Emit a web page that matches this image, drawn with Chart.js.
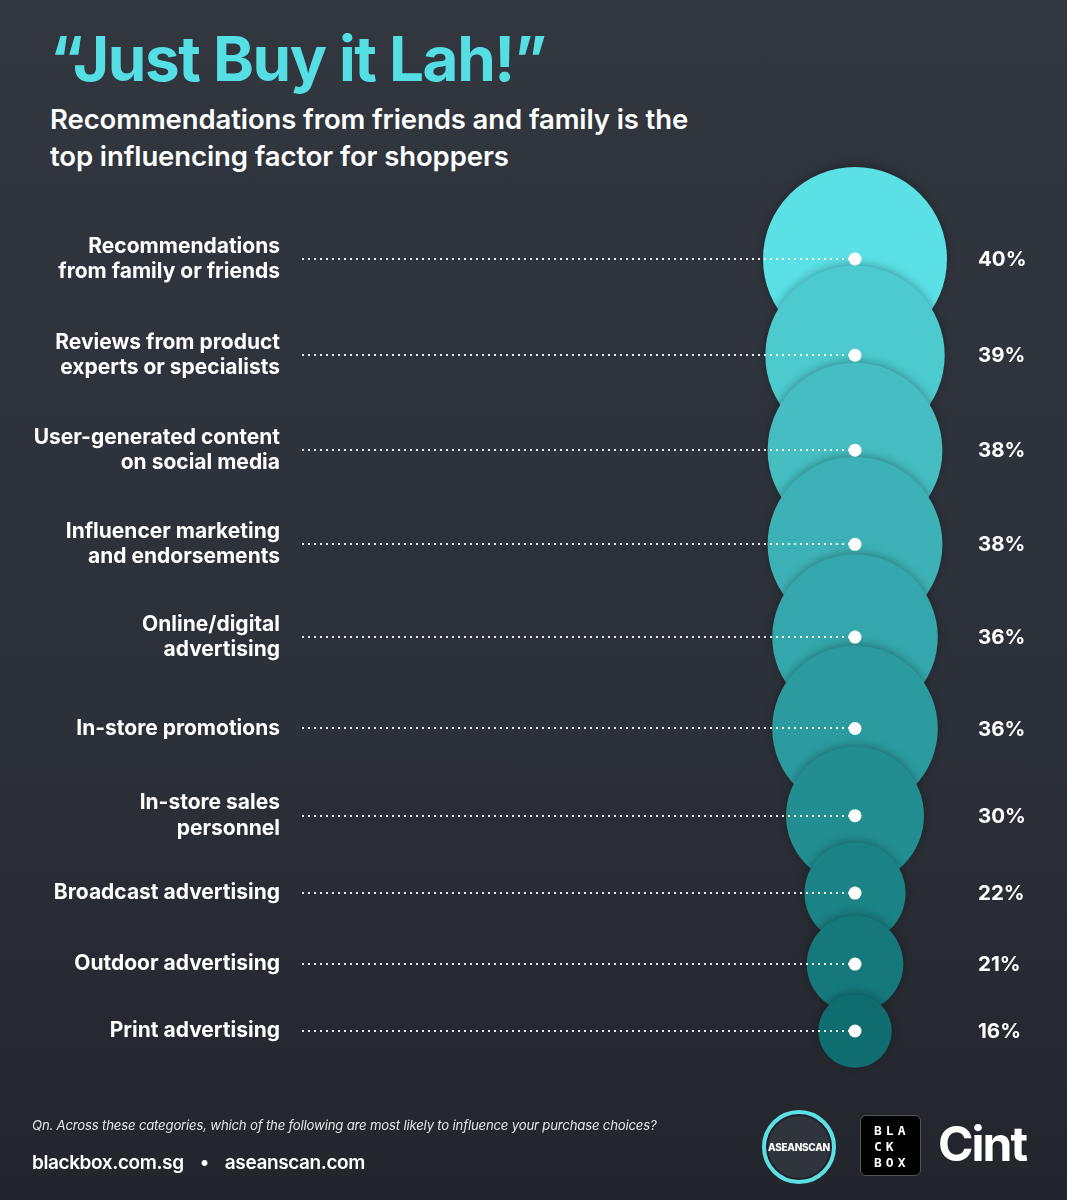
<!DOCTYPE html>
<html>
<head>
<meta charset="utf-8">
<script src="https://cdn.jsdelivr.net/npm/chart.js@4.4.1/dist/chart.umd.min.js"></script>
<style>
  html, body { margin: 0; padding: 0; }
  body {
    width: 1067px; height: 1200px; position: relative; overflow: hidden;
    background: linear-gradient(180deg, #31363f 0%, #2c3039 60%, #23252c 100%);
    font-family: "Inter", "Noto Sans", sans-serif; color: #fff;
  }
  #chart { position: absolute; left: 0; top: 0; }
  .title {
    position: absolute; left: 50px; top: 21px; margin: 0;
    font-size: 62px; font-weight: 700; letter-spacing: -1.4px; color: #55dfe4;
  }
  .subtitle {
    position: absolute; left: 50px; top: 101px; margin: 0;
    font-size: 27.5px; font-weight: 600; line-height: 37px; letter-spacing: -0.1px;
  }
  .question {
    position: absolute; left: 32px; top: 1117px;
    font-size: 13.2px; font-style: italic; color: #e4e6ea; letter-spacing: -0.2px;
  }
  .sites {
    position: absolute; left: 32px; top: 1151px;
    font-size: 19px; font-weight: 600; letter-spacing: -0.4px;
  }
  .sites span { margin: 0 16px; }
  .logo-asean {
    position: absolute; left: 762px; top: 1110px; width: 66px; height: 66px;
    border: 4px solid #5ae0e5; border-radius: 50%; background: #30343d;
    box-shadow: inset 0 0 0 2px #1f2127;
    display: flex; align-items: center; justify-content: center;
    font-size: 10px; font-weight: 800; letter-spacing: -0.3px;
  }
  .logo-bb {
    position: absolute; left: 860px; top: 1115px; width: 61px; height: 61px;
    background: #000; border-radius: 6px; border: 1px solid #555;
    font-family: "DejaVu Sans Mono", monospace; font-size: 13px; font-weight: 700;
    line-height: 16px; letter-spacing: 4px; padding: 7px 0 0 13px; box-sizing: border-box;
  }
  .logo-cint {
    position: absolute; left: 938px; top: 1116px;
    font-size: 48px; font-weight: 700; letter-spacing: -2px; line-height: 56px;
  }
</style>
</head>
<body>
<h1 class="title">“Just Buy it Lah!”</h1>
<p class="subtitle">Recommendations from friends and family is the<br>top influencing factor for shoppers</p>
<canvas id="chart" width="1067" height="1200"></canvas>
<div class="question">Qn. Across these categories, which of the following are most likely to influence your purchase choices?</div>
<div class="sites">blackbox.com.sg<span>•</span>aseanscan.com</div>
<div class="logo-asean">ASEANSCAN</div>
<div class="logo-bb">BLA<br>CK<br>BOX</div>
<div class="logo-cint">Cint</div>

<script>
// Data
const categories = [
    ['Recommendations', 'from family or friends'],
    ['Reviews from product', 'experts or specialists'],
    ['User-generated content', 'on social media'],
    ['Influencer marketing', 'and endorsements'],
    ['Online/digital', 'advertising'],
    'In-store promotions',
    ['In-store sales', 'personnel'],
    'Broadcast advertising',
    'Outdoor advertising',
    'Print advertising'
];
const shares = [40, 39, 38, 38, 36, 36, 30, 22, 21, 16];
const bubbleColors = ['#5ae0e5', '#4ccace', '#45bdc1', '#3db2b6', '#33a7ab', '#2b9b9f', '#228e91', '#1b8285', '#15787b', '#0f6c6f'];

// stack the bubbles: the gap between two rows grows with their sizes
const rowPos = [0];
for (let i = 1; i < shares.length; i++) {
    rowPos.push(rowPos[i - 1] + 41 + 0.7 * (shares[i - 1] + shares[i]));
}
const lastPos = rowPos[rowPos.length - 1];

const bubbleData = shares.map((v, i) => ({x: 1, y: rowPos[i], r: v * 2.3}));
const dotData = shares.map((v, i) => ({x: 1, y: rowPos[i]}));

// dotted leader lines + percentage labels + bubble shadow
const leaderPlugin = {
    id: 'leaders',
    beforeDatasetDraw(chart, args) {
        if (args.index !== 1) return;
        const ctx = chart.ctx;
        ctx.save();
        ctx.shadowColor = 'rgba(0,0,0,0.28)';
        ctx.shadowBlur = 8;
        ctx.shadowOffsetY = -2;
    },
    afterDatasetDraw(chart, args) {
        if (args.index !== 1) return;
        const ctx = chart.ctx;
        ctx.restore();
        const xs = chart.scales.x, ys = chart.scales.y;
        const x0 = xs.left + 2;
        const x1 = xs.getPixelForValue(1);
        ctx.save();
        ctx.strokeStyle = 'rgba(255,255,255,0.9)';
        ctx.lineWidth = 2;
        ctx.setLineDash([2, 4]);
        rowPos.forEach(p => {
            const y = Math.round(ys.getPixelForValue(p));
            ctx.beginPath();
            ctx.moveTo(x0, y);
            ctx.lineTo(x1, y);
            ctx.stroke();
        });
        ctx.restore();
    },
    afterDatasetsDraw(chart) {
        const ctx = chart.ctx;
        const xs = chart.scales.x, ys = chart.scales.y;
        ctx.save();
        ctx.fillStyle = '#ffffff';
        ctx.font = '700 20.5px Inter';
        ctx.textAlign = 'left';
        ctx.textBaseline = 'middle';
        shares.forEach((v, i) => {
            ctx.fillText(v + '%', xs.getPixelForValue(1) + 123, ys.getPixelForValue(rowPos[i]) + 1);
        });
        ctx.restore();
    }
};

new Chart(document.getElementById('chart'), {
    type: 'bubble',
    data: {
        datasets: [{
            type: 'scatter',
            data: dotData,
            backgroundColor: '#ffffff',
            borderWidth: 0,
            pointRadius: 6.5,
            order: 0,
            clip: false
        }, {
            data: bubbleData,
            backgroundColor: bubbleColors,
            borderWidth: 0,
            order: 1,
            clip: false
        }]
    },
    plugins: [leaderPlugin],
    options: {
        responsive: false,
        animation: false,
        events: [],
        layout: {
            autoPadding: false,
            padding: {top: 259, bottom: 1200 - 1031, left: 0, right: 212}
        },
        plugins: {
            legend: {display: false},
            tooltip: {enabled: false}
        },
        scales: {
            x: {
                type: 'linear', min: 0, max: 1, display: false
            },
            y: {
                type: 'linear', reverse: true, min: 0, max: lastPos,
                grid: {display: false},
                border: {display: false},
                afterBuildTicks: axis => {
                    axis.ticks = rowPos.map(p => ({value: p}));
                },
                afterFit: axis => { axis.width = 300; },
                ticks: {
                    color: '#ffffff',
                    padding: 12,
                    font: {family: 'Inter', size: 21, weight: '700', lineHeight: 1.2},
                    callback: (val, idx) => categories[idx]
                }
            }
        }
    }
});
</script>
</body>
</html>
